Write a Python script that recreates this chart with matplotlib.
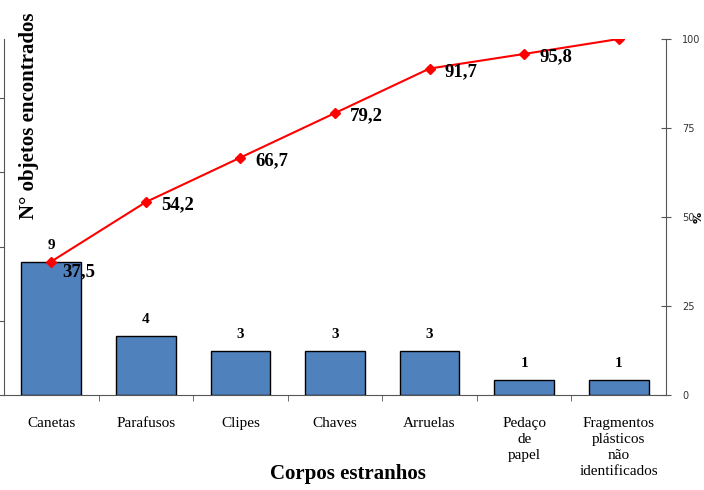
import matplotlib
matplotlib.use("Agg")
import matplotlib.pyplot as plt
from matplotlib.ticker import FixedLocator

categories = ["Canetas", "Parafusos", "Clipes", "Chaves", "Arruelas",
              "Pedaço\nde\npapel", "Fragmentos\nplásticos\nnão\nidentificados"]
counts = [9, 4, 3, 3, 3, 1, 1]
cumulative_pct = [37.5, 54.2, 66.7, 79.2, 91.7, 95.8, 100.0]
pct_labels = ["37,5", "54,2", "66,7", "79,2", "91,7", "95,8", ""]
right_ticks = [0, 25, 50, 75, 100]

serif = ["Liberation Serif", "DejaVu Serif"]

fig = plt.figure(figsize=(7.04, 4.90), dpi=100)
ax = fig.add_axes([4 / 704, 1 - 395 / 490, 662 / 704, 356 / 490])
x = list(range(len(categories)))

ax.bar(x, counts, width=0.63, color="#4F81BD", edgecolor="black", linewidth=1.0, zorder=2)
for xi, c in zip(x, counts):
    ax.annotate(str(c), (xi, c), xytext=(0, 7), textcoords="offset points",
                ha="center", va="bottom", fontsize=11, fontweight="bold", family=serif)

ax.set_xlim(-0.5, len(categories) - 0.5)
ax.set_ylim(0, 24)
ax.set_xticks(x)
ax.set_xticklabels(categories, family=serif, fontsize=11, linespacing=1.3)
ax.tick_params(axis="x", length=0, pad=16)
ax.xaxis.set_minor_locator(FixedLocator([i + 0.5 for i in range(len(categories) - 1)]))
ax.tick_params(axis="x", which="minor", length=4, direction="out", color="#555555")
ax.set_yticks([0, 5, 10, 15, 20])
ax.set_yticklabels([])
ax.tick_params(axis="y", length=4, direction="out", color="#555555")
for s in ["top", "right"]:
    ax.spines[s].set_visible(False)
ax.spines["left"].set_color("#555555")
ax.spines["bottom"].set_color("#555555")

ax.set_ylabel("N° objetos encontrados", family=serif, fontsize=15, fontweight="bold")
ax.yaxis.set_label_coords(0.053, 0.785)
ax.set_xlabel("Corpos estranhos", family=serif, fontsize=15, fontweight="bold")
ax.xaxis.set_label_coords(0.52, -0.195)

ax2 = ax.twinx()
ax2.set_ylim(0, 100)
ax2.plot(x, cumulative_pct, color="red", linewidth=1.5, marker="D", markersize=5,
         markeredgecolor="red", zorder=3)
for i, (xi, p, lab) in enumerate(zip(x, cumulative_pct, pct_labels)):
    if not lab:
        continue
    offset = (8, -1) if i == 0 else (11, -2)
    ax2.annotate(lab, (xi, p), xytext=offset, textcoords="offset points",
                 ha="left", va="top" if i == 0 else "center",
                 fontsize=13.5, fontweight="bold", family=serif)
ax2.set_yticks(right_ticks)
ax2.tick_params(axis="y", direction="inout", length=7, color="#555555",
                labelsize=7, labelcolor="#333333", pad=8)
for s in ["top", "left", "bottom"]:
    ax2.spines[s].set_visible(False)
ax2.spines["right"].set_color("#555555")
ax2.text(1.049, 0.5, "%", transform=ax2.transAxes, rotation=90,
         ha="center", va="center", fontsize=8, fontweight="bold")

fig.savefig("out.png", dpi=100)
